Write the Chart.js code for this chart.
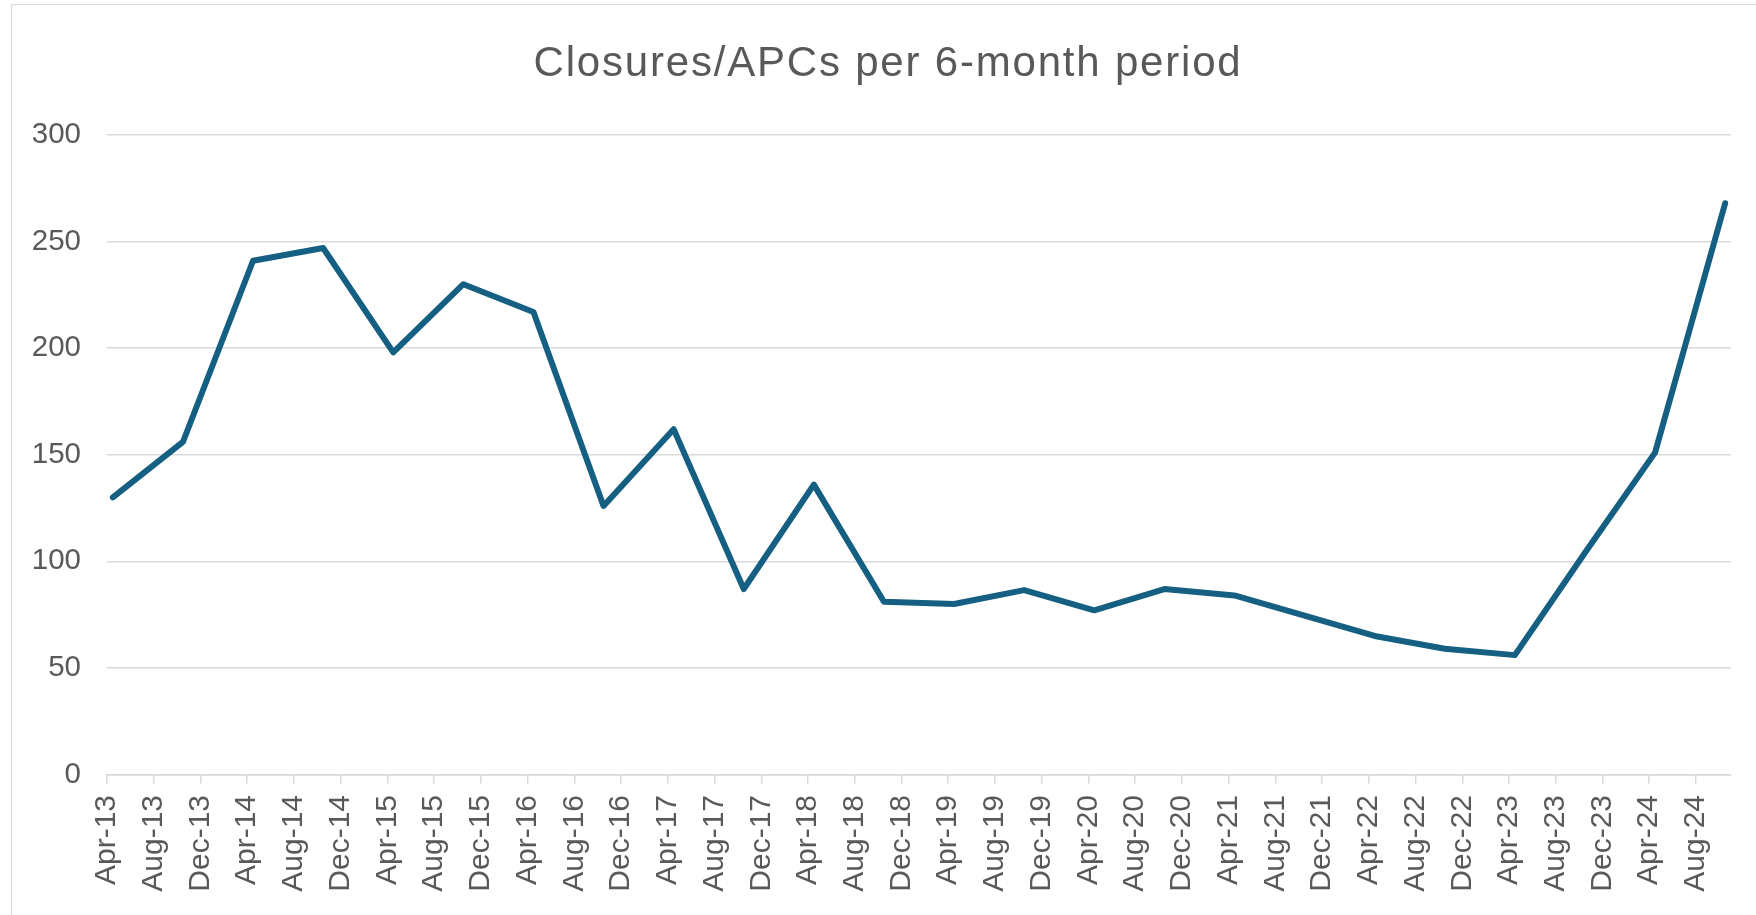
<!DOCTYPE html>
<html>
<head>
<meta charset="utf-8">
<title>Closures/APCs per 6-month period</title>
<script src="https://cdn.jsdelivr.net/npm/chart.js@4.4.1/dist/chart.umd.min.js"></script>
<style>
  html, body { margin: 0; padding: 0; background: #fff; overflow: hidden; }
  #frame {
    position: absolute; left: 11px; top: 4px; width: 1800px; height: 1000px;
    border: 1.5px solid #d9d9d9; box-sizing: border-box;
  }
  #chart { position: absolute; left: 0; top: 0; }
</style>
</head>
<body>
<div id="frame"></div>
<canvas id="chart" width="1776" height="915"></canvas>
<script>
// one value per 6-month period
const periods = [
  'Apr-13', 'Oct-13', 'Apr-14', 'Oct-14', 'Apr-15', 'Oct-15',
  'Apr-16', 'Oct-16', 'Apr-17', 'Oct-17', 'Apr-18', 'Oct-18',
  'Apr-19', 'Oct-19', 'Apr-20', 'Oct-20', 'Apr-21', 'Oct-21',
  'Apr-22', 'Oct-22', 'Apr-23', 'Oct-23', 'Apr-24', 'Oct-24'
];
const closures = [
  130, 156, 241, 247, 198, 230,
  217, 126, 162, 87, 136, 81,
  80, 86.5, 77, 87, 84, 74.5,
  65, 59, 56, 104, 151, 268
];
const axisStart = 'Apr-13';
const axisEnd = 'Nov-24';      // axis runs to the end of Oct-24
const tickEveryMonths = 4;
const yTicks = [0, 50, 100, 150, 200, 250, 300];

const monthNames = ['Jan', 'Feb', 'Mar', 'Apr', 'May', 'Jun', 'Jul', 'Aug', 'Sep', 'Oct', 'Nov', 'Dec'];

function monthIndex(label) {
  const [mon, yy] = label.split('-');
  return (2000 + Number(yy)) * 12 + monthNames.indexOf(mon);
}
const start = monthIndex(axisStart);

function monthsSinceStart(label) {
  return monthIndex(label) - start;
}

function labelFor(offset) {
  const m = start + offset;
  const year = Math.floor(m / 12) % 100;
  return monthNames[m % 12] + '-' + String(year).padStart(2, '0');
}

// Excel puts each point in the middle of its month
const points = periods.map((p, i) => ({ x: monthsSinceStart(p) + 0.5, y: closures[i] }));

const textColor = '#595959';
const gridColor = '#d9d9d9';

// title is centred on the whole chart box, not on the padded area, and is drawn a little looser
const titleTweak = {
  id: 'titleTweak',
  afterInit(chart) {
    const block = chart.titleBlock;
    if (!block) return;
    const drawTitle = block.draw.bind(block);
    block.draw = function(area) {
      const ctx = this.ctx;
      ctx.save();
      ctx.translate(22.5, 0);
      ctx.letterSpacing = '1.8px';
      drawTitle(area);
      ctx.restore();
    };
  }
};

new Chart(document.getElementById('chart'), {
  type: 'line',
  data: {
    datasets: [{
      label: 'Closures/APCs',
      data: points,
      borderColor: '#156082',
      backgroundColor: '#156082',
      borderWidth: 6,
      pointRadius: 0,
      tension: 0,
      borderJoinStyle: 'round',
      borderCapStyle: 'round'
    }]
  },
  options: {
    responsive: false,
    animation: false,
    devicePixelRatio: 1,
    layout: { padding: { left: 0, right: 45, top: 0, bottom: 0 } },
    plugins: {
      legend: { display: false },
      tooltip: { enabled: false },
      title: {
        display: true,
        text: 'Closures/APCs per 6-month period',
        color: textColor,
        font: { family: 'Liberation Sans', size: 42, weight: 'normal', lineHeight: 1.2 },
        padding: { top: 39, bottom: 45.6 }
      }
    },
    scales: {
      x: {
        type: 'linear',
        min: 0,
        max: monthsSinceStart(axisEnd),
        afterFit(scale) { scale.height = 140.5; },
        grid: {
          drawOnChartArea: false,
          drawTicks: true,
          tickLength: 9,
          color: gridColor,
          lineWidth: 1.5
        },
        border: { display: true, color: gridColor, width: 1.5 },
        ticks: {
          stepSize: tickEveryMonths,
          includeBounds: false,
          autoSkip: false,
          minRotation: 90,
          maxRotation: 90,
          padding: 11.5,
          color: textColor,
          font: { family: 'Liberation Sans', size: 30 },
          callback: (v) => labelFor(v)
        }
      },
      y: {
        min: yTicks[0],
        max: yTicks[yTicks.length - 1],
        afterFit(scale) { scale.width = 107; },
        grid: { color: gridColor, lineWidth: 1.5, drawTicks: false },
        border: { display: false },
        ticks: {
          stepSize: yTicks[1] - yTicks[0],
          padding: 26,
          color: textColor,
          font: { family: 'Liberation Sans', size: 29.5 }
        }
      }
    }
  },
  plugins: [titleTweak]
});
</script>
</body>
</html>
